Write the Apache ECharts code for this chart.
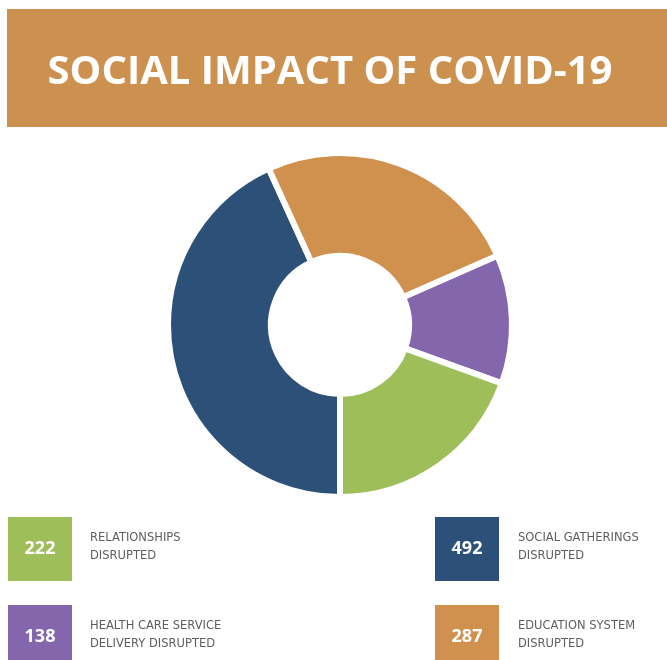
<!DOCTYPE html>
<html>
<head>
<meta charset="utf-8">
<script src="https://cdn.jsdelivr.net/npm/echarts@6/dist/echarts.min.js"></script>
<style>
html,body{margin:0;padding:0;background:#fff;}
#chart{width:667px;height:660px;}
</style>
</head>
<body>
<div id="chart"></div>
<script>
// Data (order in the ring, clockwise from 6 o'clock)
const titleText = 'SOCIAL IMPACT OF COVID-19';
const categories = ['SOCIAL GATHERINGS\nDISRUPTED', 'EDUCATION SYSTEM\nDISRUPTED', 'HEALTH CARE SERVICE\nDELIVERY DISRUPTED', 'RELATIONSHIPS\nDISRUPTED'];
const values = [492, 287, 138, 222];
const colors = ['#2d5079', '#d0914f', '#8466ad', '#9dbe58'];
// legend placement order: [index into arrays]
const legendLeftCol = [3, 2];
const legendRightCol = [0, 1];

const chart = echarts.init(document.getElementById('chart'), null, {renderer: 'canvas'});

const graphics = [];
graphics.push({
  type: 'rect', shape: {x: 7, y: 9, width: 660, height: 118},
  style: {fill: '#cd914f'}, z: 1
});
graphics.push({
  type: 'text', x: 330, y: 73,
  style: {text: titleText, fill: '#ffffff', font: 'bold 40px "Open Sans", sans-serif', textAlign: 'center', textVerticalAlign: 'middle'},
  z: 2
});

function addLegend(idx, boxX, boxY, textX) {
  graphics.push({type: 'rect', shape: {x: boxX, y: boxY, width: 64, height: 64}, style: {fill: colors[idx]}, z: 1});
  graphics.push({type: 'text', x: boxX + 32, y: boxY + 32,
    style: {text: String(values[idx]), fill: '#ffffff', font: 'bold 18px "Open Sans", sans-serif', textAlign: 'center', textVerticalAlign: 'middle'}, z: 2});
  graphics.push({type: 'text', x: textX, y: boxY + 12,
    style: {text: categories[idx], fill: '#5e5e5e', font: '11.5px "DejaVu Sans", sans-serif', lineHeight: 18, textAlign: 'left', textVerticalAlign: 'top'}, z: 2});
}
const rowY = [517, 605];
legendLeftCol.forEach((idx, r) => addLegend(idx, 8, rowY[r], 90));
legendRightCol.forEach((idx, r) => addLegend(idx, 435, rowY[r], 518));

chart.setOption({
  animation: false,
  backgroundColor: '#ffffff',
  graphic: graphics,
  series: [{
    type: 'pie',
    center: [340, 325],
    radius: [69, 172],
    startAngle: 270,
    clockwise: true,
    label: {show: false},
    labelLine: {show: false},
    itemStyle: {borderColor: '#ffffff', borderWidth: 6},
    data: values.map((v, i) => ({value: v, name: categories[i], itemStyle: {color: colors[i]}}))
  }]
});
</script>
</body>
</html>
